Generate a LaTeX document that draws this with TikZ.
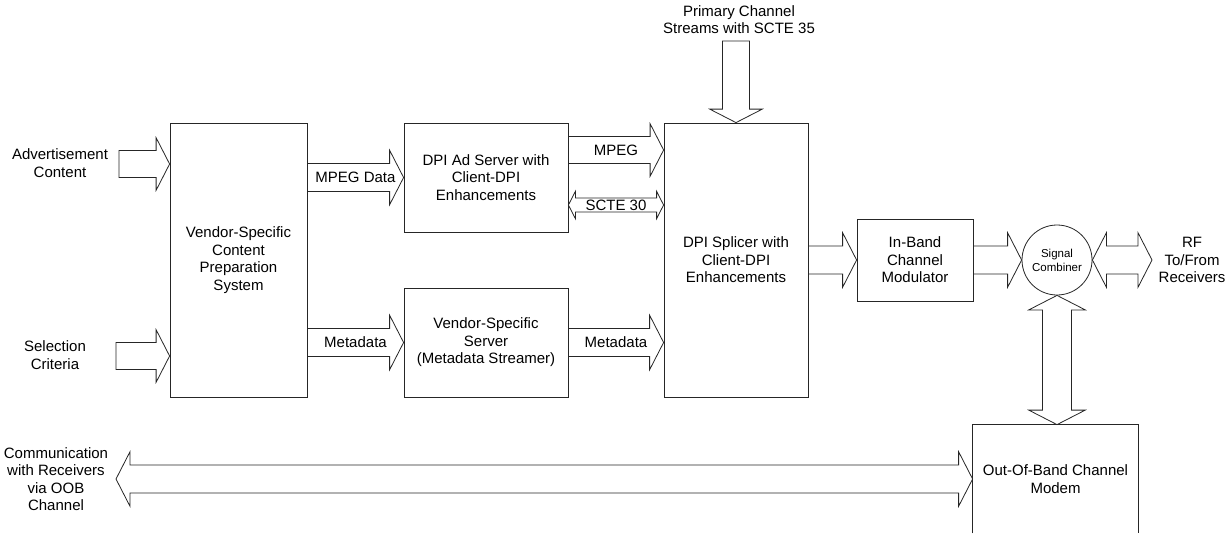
\documentclass[tikz,border=0pt]{standalone}
\usepackage{fontspec}
\setmainfont{Liberation Sans}
\usetikzlibrary{calc}

\tikzset{
  box/.style={draw=black!85, line width=0.8pt, align=center, inner sep=0pt},
  txt/.style={align=center, inner sep=0pt},
  barrow/.style={draw=black!85, line width=0.8pt, line join=miter},
}

% block arrow from #2 to #3, shaft half width #1, label #4
\newcommand{\blockarrow}[4][14]{%
  \coordinate (ba-s) at (#2);
  \coordinate (ba-e) at (#3);
  \coordinate (ba-h) at ($(ba-e)!#1pt!(ba-s)$);
  \draw[barrow] ($(ba-s)!#1pt!90:(ba-e)$) -- ($(ba-h)!#1pt!-90:(ba-s)$)
    -- ($(ba-h)!1.95*#1pt!-90:(ba-s)$) -- (ba-e)
    -- ($(ba-h)!1.95*#1pt!90:(ba-s)$) -- ($(ba-h)!#1pt!90:(ba-s)$)
    -- ($(ba-s)!#1pt!-90:(ba-e)$) -- cycle;
  \path (ba-s) -- node[txt]{#4} (ba-e);}

% same, with a head at both ends
\newcommand{\dblockarrow}[4][14]{%
  \coordinate (ba-s) at (#2);
  \coordinate (ba-e) at (#3);
  \coordinate (ba-h) at ($(ba-e)!#1pt!(ba-s)$);
  \coordinate (ba-t) at ($(ba-s)!#1pt!(ba-e)$);
  \draw[barrow] (ba-s) -- ($(ba-t)!1.95*#1pt!90:(ba-e)$) -- ($(ba-t)!#1pt!90:(ba-e)$)
    -- ($(ba-h)!#1pt!-90:(ba-s)$) -- ($(ba-h)!1.95*#1pt!-90:(ba-s)$) -- (ba-e)
    -- ($(ba-h)!1.95*#1pt!90:(ba-s)$) -- ($(ba-h)!#1pt!90:(ba-s)$)
    -- ($(ba-t)!#1pt!-90:(ba-e)$) -- ($(ba-t)!1.95*#1pt!-90:(ba-e)$) -- cycle;
  \path (ba-s) -- node[txt]{#4} (ba-e);}

\begin{document}
\begin{tikzpicture}[x=1pt,y=-1pt,font=\fontsize{15}{17.5}\selectfont]
  \useasboundingbox (0,0) rectangle (1228,533);

  % blocks
  \node[box, minimum width=137, minimum height=274] (prep) at (238.5,260)
    {Vendor-Specific\\Content\\Preparation\\System};
  \node[box, minimum width=164, minimum height=109] (adsrv) at (486,177.5)
    {DPI Ad Server with\\Client-DPI\\Enhancements};
  \node[box, minimum width=164, minimum height=109] (vss) at (486,342.5)
    {Vendor-Specific\\Server\\(Metadata Streamer)};
  \node[box, minimum width=144, minimum height=274] (splicer) at (736,260)
    {DPI Splicer with\\Client-DPI\\Enhancements};
  \node[box, minimum width=116, minimum height=82] (inband) at (915,260)
    {In-Band\\Channel\\Modulator};
  \node[box, circle, minimum size=70, font=\fontsize{11.5}{14}\selectfont] (comb) at (1057,260)
    {Signal\\Combiner};
  \node[box, draw=none, minimum width=165, minimum height=108] (oob) at (1055.5,479)
    {Out-Of-Band Channel\\Modem};
  \draw[barrow] (oob.south west) -- (oob.north west) -- (oob.north east) -- (oob.south east);

  % outside texts
  \node[txt] (advtxt) at (60,163) {Advertisement\\Content};
  \node[txt] (seltxt) at (55,355) {Selection\\Criteria};
  \node[txt] (primtxt) at (739,19.5) {Primary Channel\\Streams with SCTE 35};
  \node[txt] (rftxt) at (1192,260) {RF\\To/From\\Receivers};
  \node[txt] (commtxt) at (56,479) {Communication\\with Receivers\\via OOB\\Channel};

  \coordinate (advtail) at (119,164);
  \coordinate (seltail) at (116,356);
  \coordinate (primtail) at (736,41);
  \coordinate (rftip) at (1152,260);
  \coordinate (oobtip) at (116,479);
  \coordinate (mpegA) at ([yshift=27.5pt]adsrv.east);
  \coordinate (scteA) at ([yshift=-27.5pt]adsrv.east);

  % connectors
  \blockarrow[13.5]{advtail}{prep.west |- advtail}{}
  \blockarrow[13.5]{seltail}{prep.west |- seltail}{}
  \blockarrow{prep.east |- adsrv.west}{adsrv.west}{MPEG Data}
  \blockarrow{prep.east |- vss.west}{vss.west}{Metadata}
  \blockarrow[13.5]{mpegA}{splicer.west |- mpegA}{MPEG}
  \dblockarrow[7]{scteA}{splicer.west |- scteA}{SCTE 30}
  \blockarrow{vss.east}{splicer.west |- vss.east}{Metadata}
  \blockarrow[13.5]{primtail}{splicer.north}{}
  \blockarrow{splicer.east |- inband.west}{inband.west}{}
  \blockarrow{inband.east}{comb.west}{}
  \dblockarrow{comb.east}{rftip}{}
  \dblockarrow[14.5]{comb.south}{comb.south |- oob.north}{}
  \dblockarrow{oobtip}{oob.west}{}
\end{tikzpicture}
\end{document}
